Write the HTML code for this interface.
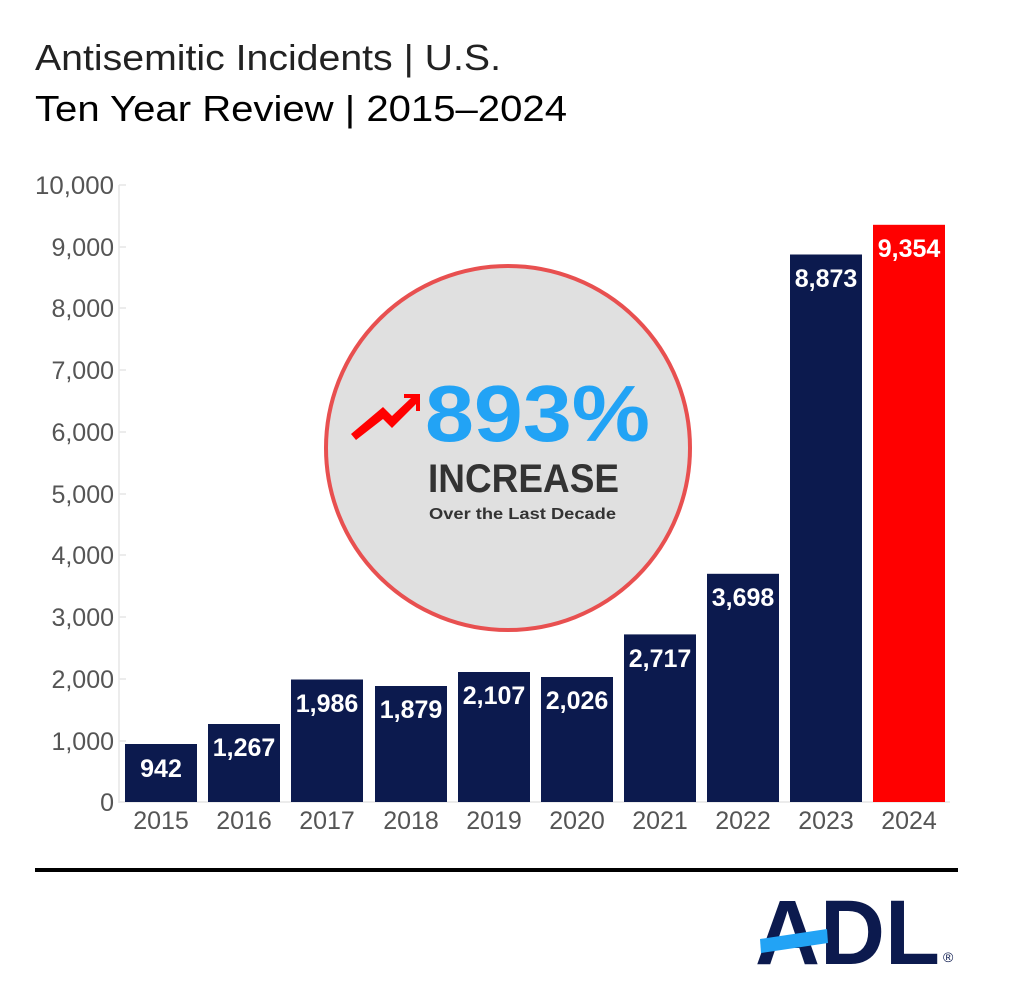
<!DOCTYPE html>
<html><head><style>
html,body{margin:0;padding:0;background:#fff;}
svg{display:block;}
text{font-family:"Liberation Sans",sans-serif;}
</style></head><body>
<svg width="1024" height="1006" viewBox="0 0 1024 1006" xmlns="http://www.w3.org/2000/svg">
<text x="35" y="70" font-size="36" fill="#222" textLength="466" lengthAdjust="spacingAndGlyphs">Antisemitic Incidents | U.S.</text>
<text x="35" y="121" font-size="36" fill="#000" textLength="532" lengthAdjust="spacingAndGlyphs">Ten Year Review | 2015–2024</text>
<line x1="119" y1="185" x2="119" y2="803" stroke="#e6e6e6" stroke-width="1.5"/>
<g stroke="#e6e6e6" stroke-width="1.5">
<line x1="119" y1="185" x2="126" y2="185"/><line x1="119" y1="247" x2="126" y2="247"/><line x1="119" y1="308" x2="126" y2="308"/><line x1="119" y1="370" x2="126" y2="370"/><line x1="119" y1="432" x2="126" y2="432"/><line x1="119" y1="494" x2="126" y2="494"/><line x1="119" y1="555" x2="126" y2="555"/><line x1="119" y1="617" x2="126" y2="617"/><line x1="119" y1="679" x2="126" y2="679"/><line x1="119" y1="741" x2="126" y2="741"/>
<line x1="119" y1="802" x2="950" y2="802"/>
</g>
<g font-size="25" fill="#555" text-anchor="end">
<text x="114" y="194" textLength="79" lengthAdjust="spacingAndGlyphs">10,000</text><text x="114" y="256">9,000</text><text x="114" y="317">8,000</text><text x="114" y="379">7,000</text><text x="114" y="441">6,000</text><text x="114" y="503">5,000</text><text x="114" y="564">4,000</text><text x="114" y="626">3,000</text><text x="114" y="688">2,000</text><text x="114" y="750">1,000</text><text x="114" y="811">0</text>
</g>
<g fill="#0c1a4e">
<rect x="125" y="744" width="72" height="58"/>
<rect x="208" y="724" width="72" height="78"/>
<rect x="291" y="679.5" width="72" height="122.5"/>
<rect x="375" y="686" width="72" height="116"/>
<rect x="458" y="672" width="72" height="130"/>
<rect x="541" y="677" width="72" height="125"/>
<rect x="624" y="634.4" width="72" height="167.6"/>
<rect x="707" y="573.8" width="72" height="228.2"/>
<rect x="790" y="254.5" width="72" height="547.5"/>
<rect x="873" y="224.8" width="72" height="577.2" fill="#ff0000"/>
</g>
<g font-size="25" font-weight="bold" fill="#fff" text-anchor="middle">
<text x="161" y="777">942</text>
<text x="244" y="756">1,267</text>
<text x="327" y="712">1,986</text>
<text x="411" y="718">1,879</text>
<text x="494" y="704">2,107</text>
<text x="577" y="709">2,026</text>
<text x="660" y="667">2,717</text>
<text x="743" y="606">3,698</text>
<text x="826" y="287">8,873</text>
<text x="909" y="257">9,354</text>
</g>
<g font-size="25" fill="#555" text-anchor="middle">
<text x="161" y="829">2015</text><text x="244" y="829">2016</text><text x="327" y="829">2017</text><text x="411" y="829">2018</text><text x="494" y="829">2019</text><text x="577" y="829">2020</text><text x="660" y="829">2021</text><text x="743" y="829">2022</text><text x="826" y="829">2023</text><text x="909" y="829">2024</text>
</g>
<circle cx="508" cy="448" r="182" fill="#e0e0e0" stroke="#e85050" stroke-width="4"/>
<polygon points="351,434 383,407 392,416 411,398 404,398 404,394 420,394 420,411 416,411 416,404 392,428 383,419 356,440" fill="#ff0000"/>
<text x="425" y="441" font-size="80" font-weight="bold" fill="#22a3f5" textLength="225" lengthAdjust="spacingAndGlyphs">893%</text>
<text x="428" y="492" font-size="40" font-weight="bold" fill="#333" textLength="191" lengthAdjust="spacingAndGlyphs">INCREASE</text>
<text x="429" y="519" font-size="16" font-weight="bold" fill="#333" textLength="187" lengthAdjust="spacingAndGlyphs">Over the Last Decade</text>
<rect x="35" y="868" width="923" height="4" fill="#000"/>
<text x="755" y="964" font-size="92" font-weight="bold" fill="#0c1a4e" textLength="185" lengthAdjust="spacingAndGlyphs">ADL</text>
<polygon points="760,939 827,929 828,943 761,953" fill="#22a3f5"/>
<text x="943" y="962" font-size="14" fill="#0c1a4e">®</text>
</svg>
</body></html>
